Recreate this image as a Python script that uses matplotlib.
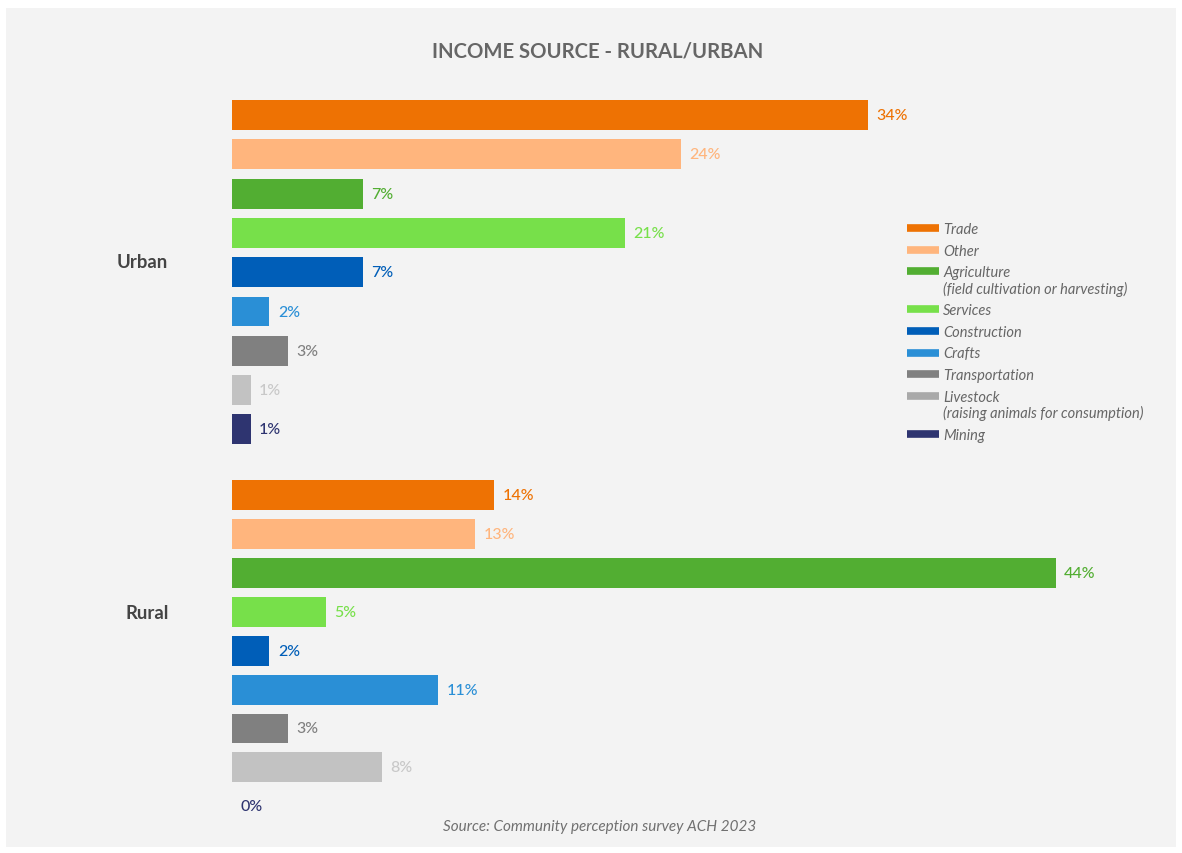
import numpy as np
import matplotlib.pyplot as plt
from matplotlib.patches import Rectangle
from matplotlib.lines import Line2D

plt.rcParams['font.family'] = ['Lato', 'DejaVu Sans']

categories = ['Trade', 'Other', 'Agriculture', 'Services', 'Construction',
              'Crafts', 'Transportation', 'Livestock', 'Mining']
legend_labels = ['Trade', 'Other',
                 'Agriculture\n(field cultivation or harvesting)',
                 'Services', 'Construction', 'Crafts', 'Transportation',
                 'Livestock\n(raising animals for consumption)', 'Mining']
urban = [34, 24, 7, 21, 7, 2, 3, 1, 1]
rural = [14, 13, 44, 5, 2, 11, 3, 8, 0]
groups = ['Urban', 'Rural']

colors = ['#EE7203', '#FFB57D', '#52AE32', '#77E04A', '#005EB8',
          '#2A8FD6', '#808080', '#C2C2C2', '#2E3470']
legend_colors = colors[:7] + ['#A9A9A9', colors[8]]

W, H = 1182, 854
fig = plt.figure(figsize=(W / 100, H / 100), dpi=100)
fig.patch.set_facecolor('white')
fig.patches.append(Rectangle((6 / W, 1 - 848 / H), 1170 / W, 839 / H,
                             transform=fig.transFigure, facecolor='#F3F3F3',
                             edgecolor='none', zorder=-5))

# axes: 1% = ~18.72 px, one bar slot = ~39.3 px
ax = fig.add_axes([232 / W, 1 - 825 / H, 936 / W, (825 - 94) / H])
ax.set_zorder(2)
ax.set_facecolor('none')
ax.set_xlim(0, 50)
ax.set_ylim(18.04, -0.56)
ax.axis('off')

n = len(categories)
rural_offset = 9.67
pos_u = np.arange(n)
pos_r = np.arange(n) * 0.99 + rural_offset

for pos, vals in [(pos_u, urban), (pos_r, rural)]:
    ax.barh(pos, vals, height=0.76, color=colors)
    for p, v, c in zip(pos, vals, colors):
        tcol = '#C8C8C8' if c == '#C2C2C2' else c
        ax.annotate(f'{v}%', (v, p), xytext=(6, 0), textcoords='offset points',
                    va='center', ha='left', fontsize=11.5, color=tcol,
                    fontweight='medium')

ax.text(-4.8, 3.72, groups[0], ha='center', va='center', fontsize=13.3,
        fontweight='bold', color='#444444')
ax.text(-4.55, 12.65, groups[1], ha='center', va='center', fontsize=13.3,
        fontweight='bold', color='#444444')

fig.text(598 / W, 1 - 51 / H, 'INCOME SOURCE - RURAL/URBAN', ha='center',
         va='center', fontsize=14.6, fontweight='bold', color='#666666')
fig.text(600 / W, 1 - 827 / H, 'Source: Community perception survey ACH 2023',
         ha='center', va='center', fontsize=11, style='italic',
         color='#707070')

# legend drawn by hand so the swatch sits on the first line of two-line labels
y = 229
for lab, c in zip(legend_labels, legend_colors):
    fy = 1 - y / H
    fig.add_artist(Line2D([907 / W, 939 / W], [fy, fy], color=c, lw=5.5,
                          solid_capstyle='butt', transform=fig.transFigure))
    fig.text(943 / W, fy + 6 / H, lab, ha='left', va='top', fontsize=10.5,
             style='italic', color='#666666', linespacing=1.1)
    y += 21.7 + 16 * lab.count('\n')

fig.savefig('out.png', dpi=100, facecolor='white')
